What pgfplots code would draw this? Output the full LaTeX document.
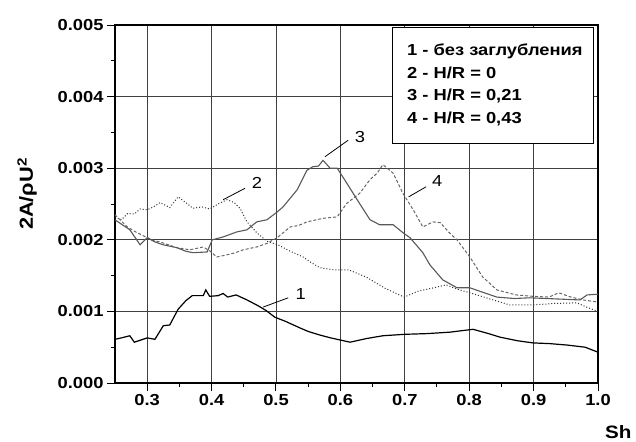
\documentclass[border=0pt]{standalone}
\usepackage{pgfplots}
\pgfplotsset{compat=1.18}
\usepackage{fontspec}
\setmainfont{Liberation Sans}[FakeStretch=1.15]
\begin{document}
\begin{tikzpicture}
\begin{axis}[
  name=ax,
  scale only axis, width=483bp, height=358bp,
  xmin=0.25, xmax=1.0, ymin=0, ymax=0.005,
  xtick={0.3,0.4,0.5,0.6,0.7,0.8,0.9,1.0},
  xticklabels={0.3,0.4,0.5,0.6,0.7,0.8,0.9,1.0},
  ytick={0,0.001,0.002,0.003,0.004,0.005},
  yticklabels={0.000,0.001,0.002,0.003,0.004,0.005},
  scaled y ticks=false,
  minor x tick num=1, minor y tick num=1,
  xtick pos=bottom, ytick pos=left,
  tick align=outside,
  major tick length=8bp, minor tick length=4bp,
  tick style={black, line width=1bp},
  axis line style={line width=1.4bp},
  grid=major,
  grid style={black!75, line width=0.8bp},
  ticklabel style={font=\bfseries\fontsize{16}{18}\selectfont},
  /pgf/number format/assume math mode=true,
  xlabel={Sh},
  xlabel style={at={(rel axis cs:1,0)}, anchor=base west, inner sep=0pt, xshift=7bp, yshift=-55bp, font=\bfseries\fontsize{18}{21}\selectfont},
  ylabel={2A/ρU\textsuperscript{2}},
  ylabel style={at={(rel axis cs:0,0.528)}, anchor=center, inner sep=0pt, yshift=88bp, font=\bfseries\fontsize{19}{22}\selectfont},
  clip=false,
]
% curve 2 (dotted)
\addplot[black!80, line width=1bp, dotted] coordinates {
(0.25,0.00232)(0.26,0.00228)(0.27,0.00237)(0.28,0.00236)(0.289,0.00243)(0.30,0.00242)(0.31,0.00246)(0.32,0.00252)(0.335,0.00245)(0.348,0.0026)(0.36,0.00252)(0.371,0.00244)(0.385,0.00246)(0.397,0.00243)(0.41,0.0025)(0.424,0.00256)(0.435,0.00252)(0.444,0.00244)(0.455,0.00225)(0.47,0.0021)(0.486,0.00198)(0.503,0.00193)(0.52,0.00185)(0.542,0.00176)(0.555,0.00168)(0.568,0.00161)(0.59,0.00158)(0.613,0.00158)(0.64,0.00148)(0.67,0.00132)(0.699,0.0012)(0.72,0.00128)(0.745,0.00133)(0.764,0.00137)(0.785,0.0013)(0.801,0.00126)(0.83,0.00118)(0.863,0.00109)(0.899,0.00109)(0.93,0.00111)(0.967,0.00112)(0.985,0.00105)(1.0,0.001)};
% curve 4 (dashed)
\addplot[black!60, line width=1bp, dash pattern=on 3bp off 2bp] coordinates {
(0.25,0.00235)(0.26,0.00226)(0.269,0.00218)(0.284,0.0021)(0.30,0.00203)(0.31,0.00199)(0.32,0.00197)(0.333,0.00193)(0.346,0.00189)(0.366,0.00186)(0.387,0.0019)(0.398,0.00184)(0.408,0.00176)(0.424,0.00179)(0.437,0.00182)(0.449,0.00186)(0.47,0.0019)(0.486,0.00195)(0.502,0.00203)(0.522,0.00218)(0.535,0.0022)(0.548,0.00225)(0.573,0.0023)(0.595,0.00232)(0.61,0.00251)(0.63,0.00265)(0.646,0.00284)(0.657,0.00293)(0.666,0.00305)(0.682,0.00293)(0.697,0.00265)(0.713,0.00242)(0.728,0.00218)(0.744,0.00225)(0.755,0.00224)(0.769,0.0021)(0.781,0.002)(0.801,0.00176)(0.821,0.00148)(0.843,0.0013)(0.873,0.00123)(0.9,0.00121)(0.924,0.0012)(0.939,0.00126)(0.958,0.0012)(0.977,0.00116)(1.0,0.00113)};
% curve 3 (solid gray)
\addplot[black!65, line width=1.1bp] coordinates {
(0.25,0.00228)(0.258,0.00223)(0.273,0.00214)(0.289,0.00193)(0.30,0.00203)(0.312,0.00197)(0.325,0.00193)(0.346,0.00189)(0.36,0.00184)(0.371,0.00182)(0.393,0.00183)(0.401,0.002)(0.418,0.00204)(0.439,0.00211)(0.455,0.00214)(0.47,0.00225)(0.486,0.00228)(0.502,0.00239)(0.511,0.00246)(0.522,0.00258)(0.533,0.0027)(0.548,0.00297)(0.557,0.00302)(0.566,0.00303)(0.573,0.00311)(0.584,0.003)(0.595,0.003)(0.61,0.00279)(0.626,0.00256)(0.646,0.00228)(0.661,0.00221)(0.682,0.00221)(0.697,0.0021)(0.708,0.00203)(0.728,0.00182)(0.739,0.00165)(0.759,0.00144)(0.781,0.00133)(0.801,0.00133)(0.82,0.00127)(0.843,0.0012)(0.87,0.00118)(0.894,0.00119)(0.92,0.00118)(0.946,0.00117)(0.972,0.00116)(0.983,0.00123)(1.0,0.00124)};
% curve 1 (solid black)
\addplot[black, line width=1.2bp] coordinates {
(0.25,0.00061)(0.26,0.00063)(0.273,0.00066)(0.28,0.00057)(0.29,0.0006)(0.30,0.00063)(0.312,0.00061)(0.325,0.0008)(0.335,0.00081)(0.348,0.00103)(0.36,0.00115)(0.37,0.00122)(0.387,0.00122)(0.391,0.0013)(0.397,0.00121)(0.41,0.00122)(0.418,0.00125)(0.425,0.0012)(0.438,0.00123)(0.455,0.00116)(0.472,0.00108)(0.485,0.00101)(0.498,0.00092)(0.515,0.00086)(0.537,0.00077)(0.55,0.00072)(0.568,0.00067)(0.585,0.00063)(0.6,0.0006)(0.615,0.00057)(0.64,0.00062)(0.666,0.00066)(0.7,0.00068)(0.735,0.00069)(0.77,0.00071)(0.806,0.00075)(0.83,0.00069)(0.848,0.00064)(0.875,0.00059)(0.899,0.00056)(0.925,0.00055)(0.952,0.00053)(0.98,0.0005)(1.0,0.00043)};
% curve labels
\draw[black, line width=0.8bp] (axis cs:0.48,0.00106) -- (axis cs:0.519,0.00119);
\node[anchor=west, font=\fontsize{16}{18}\selectfont] at (axis cs:0.525,0.00124) {1};
\draw[black, line width=0.8bp] (axis cs:0.418,0.00256) -- (axis cs:0.452,0.00272);
\node[anchor=west, font=\fontsize{16}{18}\selectfont] at (axis cs:0.457,0.00279) {2};
\draw[black, line width=0.8bp] (axis cs:0.576,0.00316) -- (axis cs:0.612,0.00339);
\node[anchor=west, font=\fontsize{16}{18}\selectfont] at (axis cs:0.617,0.00343) {3};
\draw[black, line width=0.8bp] (axis cs:0.706,0.0026) -- (axis cs:0.733,0.00274);
\node[anchor=west, font=\fontsize{16}{18}\selectfont] at (axis cs:0.737,0.00282) {4};
% legend box
\node[draw=black, line width=0.9bp, fill=white, anchor=north west, inner sep=0pt,
      minimum width=201bp, minimum height=116bp] (lg) at (axis cs:0.680,0.004972) {};
\node[anchor=north west, align=left, inner sep=0pt, font=\bfseries\fontsize{16}{22.5}\selectfont]
  at ([xshift=15bp,yshift=-17bp]lg.north west) {1 - без заглубления\\2 - H/R = 0\\3 - H/R = 0,21\\4 - H/R = 0,43};
\end{axis}
\pgfresetboundingbox
\path (ax.south west) ++(-115bp,-59bp) rectangle ++(636bp,442bp);
\end{tikzpicture}
\end{document}
